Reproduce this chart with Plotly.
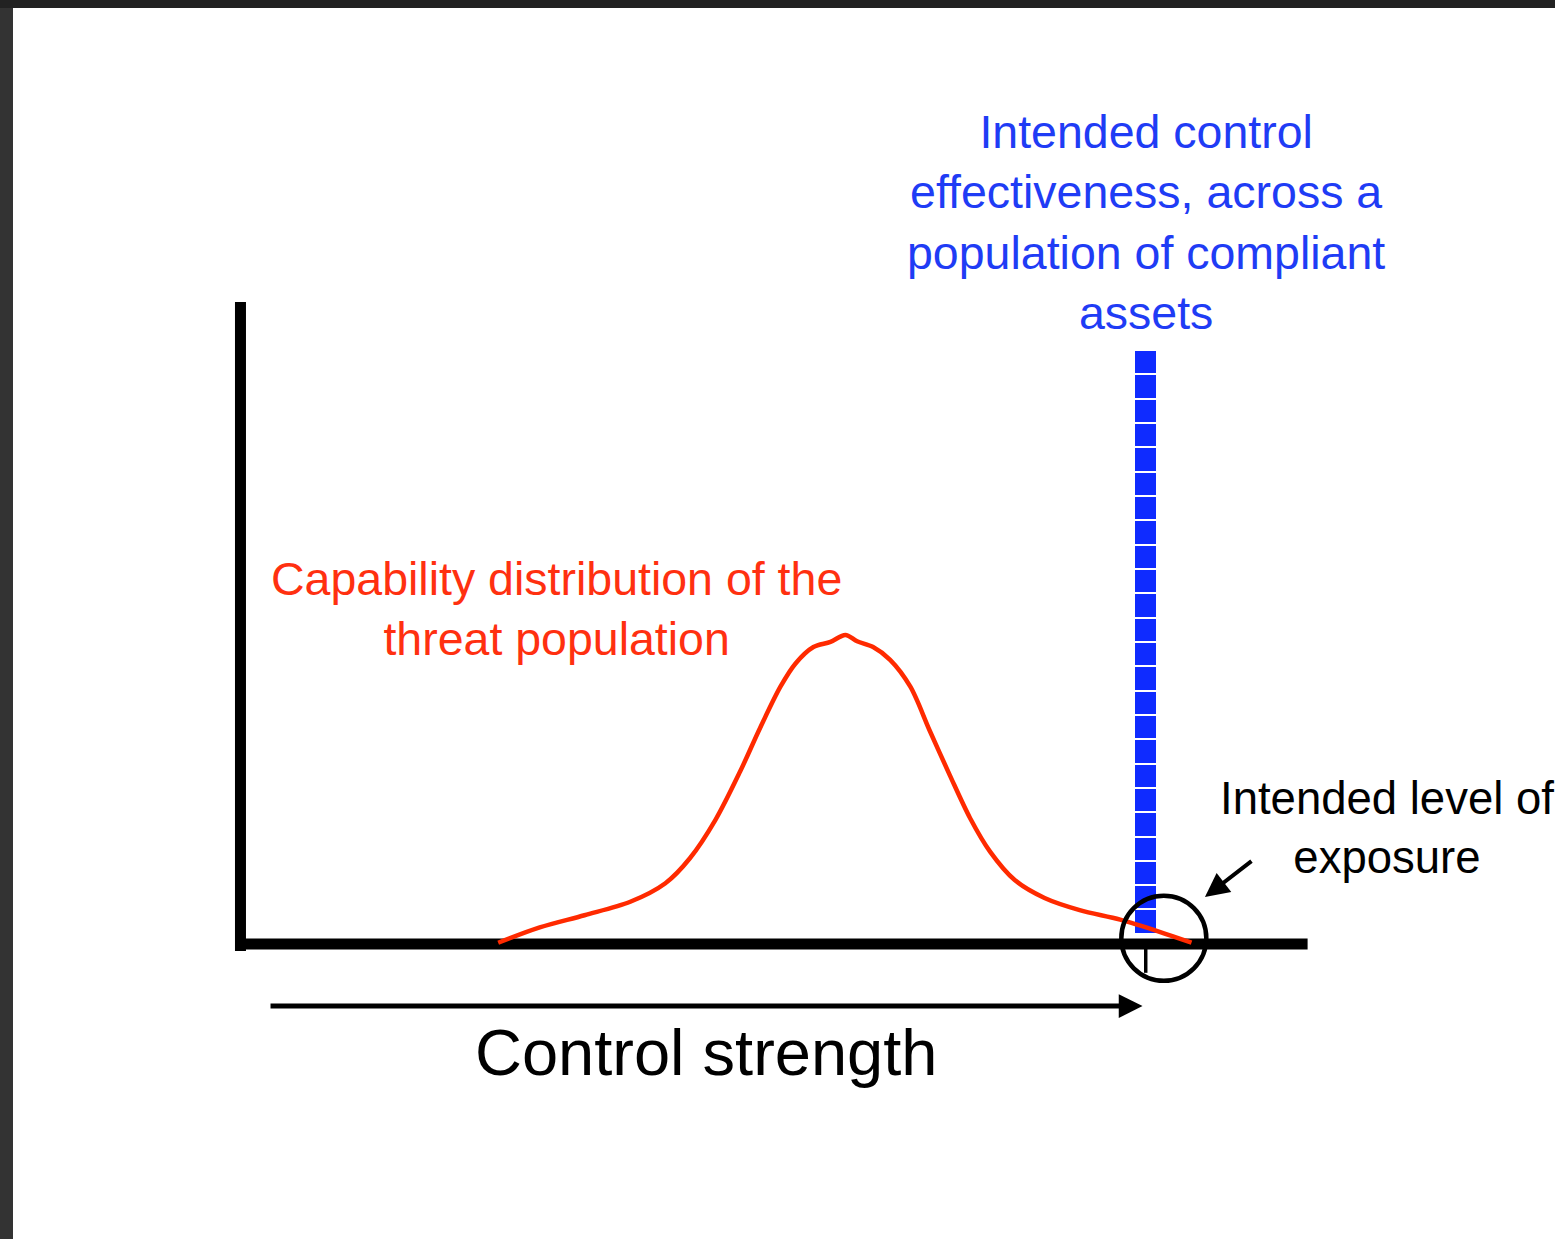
import numpy as np
import plotly.graph_objects as go

# ---- data (units: control strength on x, relative frequency on y) ----
curve_x = [2.42, 2.81, 3.23, 3.66, 3.99, 4.22, 4.46, 4.69, 4.88, 5.07, 5.21, 5.38, 5.54,
           5.68, 5.79, 5.94, 6.10, 6.29, 6.47, 6.66, 6.85, 7.04, 7.27, 7.55, 7.88, 8.26,
           8.63, 8.93]
curve_y = [0.02, 0.26, 0.45, 0.66, 0.95, 1.34, 1.94, 2.69, 3.38, 4.02, 4.38, 4.64, 4.72,
           4.83, 4.73, 4.64, 4.44, 4.02, 3.34, 2.64, 1.97, 1.44, 1.00, 0.72, 0.53, 0.38,
           0.19, 0.02]

control_x = 8.5          # intended control strength
asset_blocks = [0.38, 0.38, 0.38, 0.38, 0.38, 0.38, 0.38, 0.38, 0.38, 0.38, 0.38, 0.38,
                0.38, 0.38, 0.38, 0.38, 0.38, 0.38, 0.38, 0.38, 0.38, 0.38, 0.38, 0.38]
block_base = 0.16

exposure_x = 8.67
exposure_y = 0.09

title_blue = "Intended control<br>effectiveness, across a<br>population of compliant<br>assets"
label_red = "Capability distribution of the<br>threat population"
label_black = "Intended level of<br>exposure"
axis_title = "Control strength"

# ---- figure ----
W, H = 1555, 1239
XR = [-2.258, 12.343]
YR = [-4.609, 14.75]
FONT = "Liberation Sans, Arial, sans-serif"

fig = go.Figure()

bases = block_base + np.concatenate([[0.0], np.cumsum(asset_blocks)[:-1]])
fig.add_trace(go.Bar(
    x=[control_x] * len(asset_blocks), y=asset_blocks, base=bases,
    width=0.216, marker=dict(color="#0f2bff", line=dict(color="white", width=2)),
    hoverinfo="skip", showlegend=False))

fig.add_trace(go.Scatter(
    x=curve_x, y=curve_y, mode="lines",
    line=dict(color="#ff2a00", width=4.5, shape="spline", smoothing=0.9),
    hoverinfo="skip", showlegend=False))

shapes = [
    # axes
    dict(type="line", xref="x", yref="y", x0=-0.05, x1=10.02, y0=0, y1=0,
         line=dict(color="black", width=11), layer="below"),
    dict(type="line", xref="x", yref="y", x0=0, x1=0, y0=-0.11, y1=10.03,
         line=dict(color="black", width=11), layer="below"),
    # exposure marker
    dict(type="line", xref="x", yref="y", x0=control_x, x1=control_x, y0=0, y1=-0.45,
         line=dict(color="black", width=3.5), layer="below"),
    dict(type="circle", xref="x", yref="y",
         x0=exposure_x - 0.399, x1=exposure_x + 0.399,
         y0=exposure_y - 0.664, y1=exposure_y + 0.664,
         line=dict(color="black", width=4.5), layer="above"),
    # window frame
    dict(type="rect", xref="paper", yref="paper", x0=0, x1=13 / W, y0=0, y1=1,
         fillcolor="#333333", line=dict(width=0), layer="above"),
    dict(type="rect", xref="paper", yref="paper", x0=0, x1=1, y0=1 - 8 / H, y1=1,
         fillcolor="#222222", line=dict(width=0), layer="above"),
]

annotations = [
    dict(x=8.47, y=-0.97, ax=0.268, ay=-0.97, xref="x", yref="y", axref="x", ayref="y",
         text="", showarrow=True, arrowhead=2, arrowsize=0.95, arrowwidth=5,
         arrowcolor="black"),
    dict(x=9.056, y=0.734, ax=9.507, ay=1.3125, xref="x", yref="y", axref="x", ayref="y",
         text="", showarrow=True, arrowhead=2, arrowsize=1.2, arrowwidth=4,
         arrowcolor="black"),
    dict(x=4.37, y=-1.69, xref="x", yref="y", text=axis_title, showarrow=False,
         font=dict(family=FONT, size=65, color="black"),
         xanchor="center", yanchor="middle"),
    dict(x=8.5, y=11.27, xref="x", yref="y", text=title_blue, showarrow=False,
         font=dict(family=FONT, size=46.5, color="#1f3cf5"),
         xanchor="center", yanchor="middle"),
    dict(x=2.97, y=5.24, xref="x", yref="y", text=label_red, showarrow=False,
         font=dict(family=FONT, size=46.5, color="#ff3010"),
         xanchor="center", yanchor="middle"),
    dict(x=10.77, y=1.82, xref="x", yref="y", text=label_black, showarrow=False,
         font=dict(family=FONT, size=45.5, color="black"),
         xanchor="center", yanchor="middle"),
]

fig.update_layout(
    width=W, height=H, margin=dict(l=0, r=0, t=0, b=0, pad=0),
    paper_bgcolor="white", plot_bgcolor="white",
    xaxis=dict(range=XR, visible=False, fixedrange=True),
    yaxis=dict(range=YR, visible=False, fixedrange=True),
    shapes=shapes, annotations=annotations, showlegend=False, bargap=0,
)

fig.write_html("out.html", config={"displayModeBar": False},
               post_script="document.body.style.margin='0';document.body.style.overflow='hidden';")
